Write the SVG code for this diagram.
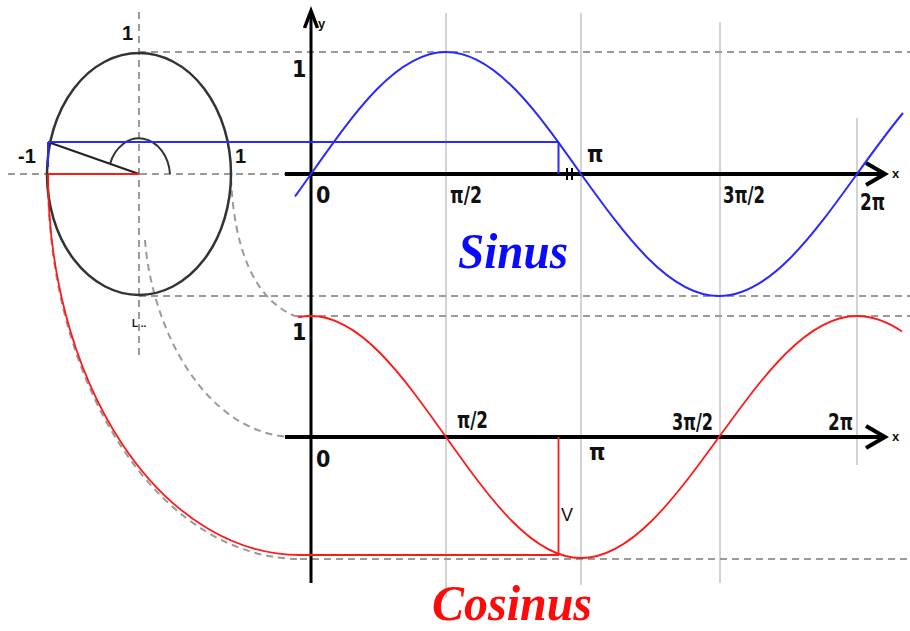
<svg xmlns="http://www.w3.org/2000/svg" width="910" height="631" viewBox="0 0 910 631">
<style>
.dash{fill:none;stroke:#9a9a9a;stroke-width:2;stroke-dasharray:7 5}
.grid{stroke:#c4c4c4;stroke-width:1.5}
.axis{stroke:#000;stroke-width:4;fill:none}
.arrow{stroke:#000;stroke-width:4;fill:none;stroke-linejoin:miter;stroke-linecap:butt}
.lb{font-family:"Liberation Sans Narrow","DejaVu Sans Condensed",sans-serif;font-stretch:condensed;font-weight:bold;font-size:23px;fill:#111}
.cl{font-family:"Liberation Sans",Arial,sans-serif;font-weight:bold;font-size:20px;fill:#111}
.sm{font-family:"Liberation Sans",Arial,sans-serif;font-weight:bold;font-size:13px;fill:#111}
.big{font-family:"Liberation Serif","Times New Roman",serif;font-style:italic;font-weight:bold;font-size:51px}
.blue{stroke:#2a2aff;stroke-width:2;fill:none}
.red{stroke:#ff1a1a;stroke-width:1.8;fill:none}
</style>
<rect width="910" height="631" fill="#fff"/>
<g id="grid">
<line class="grid" x1="446" y1="13" x2="446" y2="598"/>
<line class="grid" x1="581" y1="13" x2="581" y2="585"/>
<line class="grid" x1="720" y1="22" x2="720" y2="583"/>
<line class="grid" x1="857" y1="118" x2="857" y2="465"/>
</g>
<g id="connectors">
<line class="dash" x1="139" y1="12" x2="139" y2="357"/>
<line class="dash" x1="8" y1="174" x2="285" y2="174"/>
<line class="dash" x1="139" y1="52" x2="910" y2="52"/>
<line class="dash" x1="139" y1="296" x2="910" y2="296"/>
<line class="dash" x1="295" y1="316" x2="910" y2="316"/>
<line class="dash" x1="300" y1="559" x2="910" y2="559"/>
<path class="dash" d="M231,178 C234,250 255,300 295,316"/>
<path class="dash" d="M145,240 C152,330 205,432 290,437"/>
<path class="dash" d="M48,178 A252,381 0 0 0 300,559"/>
</g>
<g id="unit-circle">
<ellipse cx="139" cy="174" rx="92" ry="121" fill="none" stroke="#333" stroke-width="2.5"/>
<path d="M110,164 A31,39 0 0 1 170,174" fill="none" stroke="#333" stroke-width="2"/>
<line x1="48" y1="142" x2="139" y2="174" stroke="#222" stroke-width="2"/>
<line x1="48" y1="174" x2="139" y2="174" stroke="#ff1a1a" stroke-width="2"/>
<line x1="48" y1="142" x2="48" y2="167" stroke="#2a2aff" stroke-width="2"/>
<text class="cl" x="122" y="40">1</text>
<text class="cl" x="18" y="163">-1</text>
<text class="cl" x="235" y="163">1</text>
<text class="sm" x="132" y="327" style="font-size:10px">L ..</text>
</g>
<g id="sine-graph">
<line class="axis" x1="311" y1="12" x2="311" y2="583" style="stroke-width:3"/>
<path class="arrow" d="M304.5,28 L311,11 L317.5,28" style="stroke-width:3.5"/>
<line class="axis" x1="285" y1="174" x2="882" y2="174"/>
<path class="arrow" d="M866,163 L885,174 L866,185"/>
<line x1="567" y1="168" x2="567" y2="180" stroke="#000" stroke-width="2"/>
<line x1="572" y1="168" x2="572" y2="180" stroke="#000" stroke-width="2"/>
<line x1="48" y1="142" x2="558.5" y2="142" stroke="#2a2aff" stroke-width="2"/>
<line x1="558.5" y1="142" x2="558.5" y2="174" stroke="#2a2aff" stroke-width="2"/>
<path class="blue" d="M295,196.5 C300.3,189.1 305.7,181.6 311,174 C355,111.5 397.1,52 446,52 C494.9,52 537,111.5 581,174 C626,236.5 669.1,296 719,296 C768.9,296 812,236.5 857,174 C872.3,152.7 887.7,131.4 903,113"/>
<text class="sm" x="318" y="28">y</text>
<text class="lb" x="292" y="77">1</text>
<text class="lb" x="316" y="203">0</text>
<text class="lb" x="450" y="203" textLength="32" lengthAdjust="spacingAndGlyphs">π/2</text>
<text class="lb" x="587" y="162">π</text>
<text class="lb" x="723" y="203" textLength="42" lengthAdjust="spacingAndGlyphs">3π/2</text>
<text class="lb" x="860" y="210" textLength="25" lengthAdjust="spacingAndGlyphs">2π</text>
<text class="sm" x="892" y="178">x</text>
<text class="big" x="458" y="268" fill="#0a0aff" textLength="110" lengthAdjust="spacingAndGlyphs">Sinus</text>
</g>
<g id="cosine-graph">
<line class="axis" x1="285" y1="437" x2="882" y2="437"/>
<path class="arrow" d="M866,426 L885,437 L866,448"/>
<path class="red" d="M48,174 A252,381 0 0 0 300,555 L558.5,555 L558.5,437"/>
<path class="red" d="M298,317.3 C302.3,316.4 306.7,316 311,316 C359.9,316 402,375 446,437 C490,499 532.1,558 581,558 C630.9,558 674,499 719,437 C764,375 807.1,316 857,316 C872,316 887,321.4 902,331.5"/>
<text class="lb" x="292" y="340">1</text>
<text class="lb" x="316" y="467">0</text>
<text class="lb" x="457" y="428" textLength="31" lengthAdjust="spacingAndGlyphs">π/2</text>
<text class="lb" x="589" y="460">π</text>
<text class="lb" x="672" y="430" textLength="41" lengthAdjust="spacingAndGlyphs">3π/2</text>
<text class="lb" x="828" y="430" textLength="25" lengthAdjust="spacingAndGlyphs">2π</text>
<text class="sm" x="892" y="441">x</text>
<text class="sm" x="561" y="521" style="font-weight:normal;font-size:18px">V</text>
<text class="big" x="432" y="620" fill="#ff0a0a" textLength="160" lengthAdjust="spacingAndGlyphs">Cosinus</text>
</g>
</svg>
